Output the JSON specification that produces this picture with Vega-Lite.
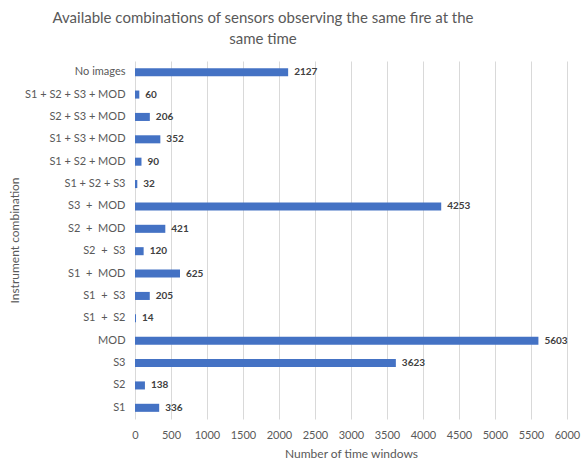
{
  "$schema": "https://vega.github.io/schema/vega-lite/v6.json",
  "width": 432,
  "height": 358,
  "autosize": "none",
  "padding": {"left": 135, "top": 61, "right": 14, "bottom": 45},
  "background": "white",
  "title": {
    "text": ["Available combinations of sensors observing the same fire at the", "same time"],
    "fontSize": 15,
    "font": "Lato",
    "fontWeight": "normal",
    "color": "#595959",
    "anchor": "middle",
    "dx": -88,
    "offset": 14,
    "lineHeight": 21
  },
  "data": {
    "values": [
      {"combo": "No images", "count": 2127},
      {"combo": "S1 + S2 + S3 + MOD", "count": 60},
      {"combo": "S2 + S3 + MOD", "count": 206},
      {"combo": "S1 + S3 + MOD", "count": 352},
      {"combo": "S1 + S2 + MOD", "count": 90},
      {"combo": "S1 + S2 + S3", "count": 32},
      {"combo": "S3 \u00a0+ \u00a0MOD", "count": 4253},
      {"combo": "S2 \u00a0+ \u00a0MOD", "count": 421},
      {"combo": "S2 \u00a0+ \u00a0S3", "count": 120},
      {"combo": "S1 \u00a0+ \u00a0MOD", "count": 625},
      {"combo": "S1 \u00a0+ \u00a0S3", "count": 205},
      {"combo": "S1 \u00a0+ \u00a0S2", "count": 14},
      {"combo": "MOD", "count": 5603},
      {"combo": "S3", "count": 3623},
      {"combo": "S2", "count": 138},
      {"combo": "S1", "count": 336}
    ]
  },
  "config": {
    "view": {"stroke": null},
    "font": "Lato"
  },
  "encoding": {
    "y": {
      "field": "combo",
      "type": "nominal",
      "sort": null,
      "scale": {"paddingInner": 0.64, "paddingOuter": 0.32},
      "axis": {
        "title": "Instrument combination",
        "titleFontSize": 12,
        "titleFontWeight": "normal",
        "titleColor": "#595959",
        "titlePadding": 3,
        "labelFontSize": 11,
        "labelColor": "#595959",
        "labelPadding": 10,
        "ticks": false,
        "domain": false
      }
    },
    "x": {
      "field": "count",
      "type": "quantitative",
      "scale": {"domain": [0, 6000], "nice": false},
      "axis": {
        "values": [0, 500, 1000, 1500, 2000, 2500, 3000, 3500, 4000, 4500, 5000, 5500, 6000],
        "format": "d",
        "labelOverlap": false,
        "labelFlush": false,
        "title": "Number of time windows",
        "titleFontSize": 12,
        "titleFontWeight": "normal",
        "titleColor": "#595959",
        "titlePadding": 8,
        "labelFontSize": 11,
        "labelColor": "#595959",
        "labelPadding": 10,
        "ticks": false,
        "domain": false,
        "grid": true,
        "gridColor": "#d9d9d9",
        "gridWidth": 1
      }
    }
  },
  "layer": [
    {"mark": {"type": "bar", "color": "#4472C4"}},
    {
      "mark": {"type": "text", "align": "left", "dx": 6, "fontSize": 10, "fontWeight": "bold", "color": "#404040"},
      "encoding": {"text": {"field": "count", "type": "quantitative", "format": "d"}}
    }
  ]
}
